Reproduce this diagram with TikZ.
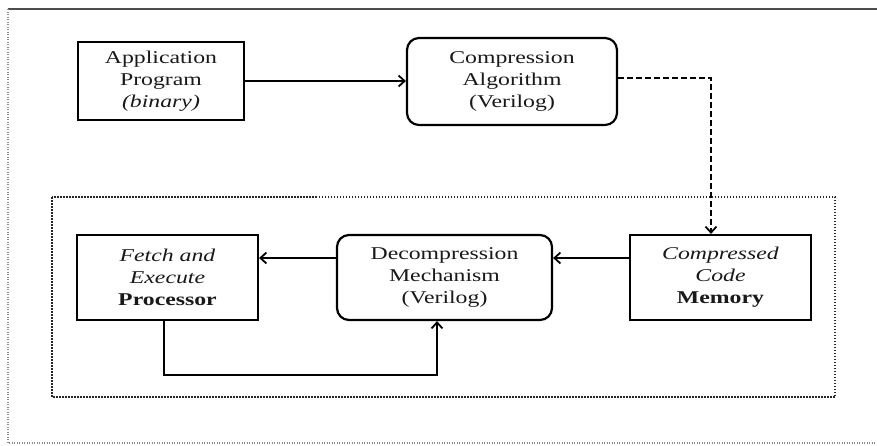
\documentclass[tikz,border=0pt]{standalone}
\usepackage{fontspec}
\setmainfont{Liberation Serif}[FakeStretch=1.32]
\usetikzlibrary{arrows.meta}

\tikzset{
  blk/.style={draw=black, line width=2.2pt, minimum width=#1, minimum height=85pt,
              inner sep=0pt, align=center, font=\fontsize{18}{22}\selectfont,
              text=black!90},
  sqbox/.style={blk=#1},
  rbox/.style={blk=#1, rounded corners=12pt},
  arr/.style={line width=2pt, -{Straight Barb[length=6pt,width=11pt,line width=1.8pt]}},
  dasharr/.style={arr, dash pattern=on 6pt off 3pt},
  group/.style={draw=black!85, line width=1.8pt, dash pattern=on 1.5pt off 1.5pt},
  framesolid/.style={draw=black!70, line width=2.6pt},
  framedot/.style={draw=black!45, line width=1.1pt, dash pattern=on 1pt off 1.5pt}
}

\begin{document}
\begin{tikzpicture}[x=1pt, y=-1pt]
  \useasboundingbox (0,0) rectangle (877,445);
  \fill[white] (0,0) rectangle (877,445);

  % outer page frame
  \draw[framesolid] (8,9) -- (877,9);
  \draw[framedot] (8,9) -- (8,443) -- (877,443);

  % top row: input program and compressor
  \node[sqbox=166pt, minimum height=78pt] (app) at (161,81)
    {Application\\Program\\\textit{(binary)}};
  \node[rbox=210pt, minimum height=87pt] (comp) at (512,81.5)
    {Compression\\Algorithm\\(Verilog)};

  % on-chip subsystem
  \draw[group] (52,197) rectangle (835,397);

  \node[sqbox=181pt] (fetch) at (167.5,277.5)
    {\textit{Fetch and}\\\textit{Execute}\\\textbf{Processor}};
  \node[rbox=215pt] (dec) at (444.5,277.5)
    {Decompression\\Mechanism\\(Verilog)};
  \node[sqbox=181pt] (mem) at (720.5,277.5)
    {\textit{Compressed}\\\textit{Code}\\\textbf{Memory}};

  % connectors
  \draw[arr] (app.east) -- (comp.west |- app.east);
  \draw[dasharr] ([yshift=3.5pt]comp.east) -| ([xshift=-9.5pt]mem.north);
  \draw[arr] ([yshift=19.5pt]mem.west) -- ([yshift=19.5pt]dec.east);
  \draw[arr] ([yshift=19.5pt]dec.west) -- ([yshift=19.5pt]fetch.east);
  \draw[arr] ([xshift=-3.5pt]fetch.south) -- ++(0,54) -| ([xshift=-7.5pt]dec.south);
\end{tikzpicture}
\end{document}
